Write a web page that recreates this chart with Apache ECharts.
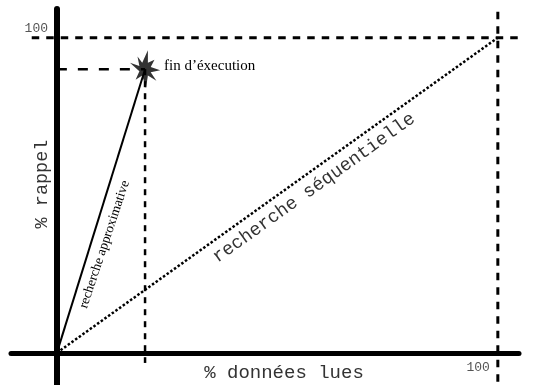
<!DOCTYPE html>
<html>
<head>
<meta charset="utf-8">
<script src="https://cdn.jsdelivr.net/npm/echarts@6/dist/echarts.min.js"></script>
<style>
  html, body { margin: 0; padding: 0; background: #fff; }
  #chart { width: 533px; height: 385px; }
</style>
</head>
<body>
<div id="chart"></div>
<script>
// % données lues (x) / % rappel (y)
const seqLues = [0, 100]
const seqRappel = [0, 100]
const approxLues = [0, 20]
const approxRappel = [0, 90]
// reference guides at 100 %
const guideH = [-5.7, 110]   // x extent of the dashed line at rappel = 100
const guideV = [108.2, -9.2] // y extent of the dashed line at lues = 100
const finDrop = -3.2         // dashed drop from the end point stops here
const xTicks = [100]
const yTicks = [100]

const finX = approxLues[approxLues.length - 1]
const finY = approxRappel[approxRappel.length - 1]

const zip = (xs, ys) => xs.map((x, i) => [x, ys[i]])

const mono = 'Liberation Mono'
const serif = 'Liberation Serif'
const star = 'path://M3,-18 L3,-6 L10,-9 L6,-2 L16,1 L6,3 L12,11 L3,6 L1,18 L-3,6 L-10,10 L-6,2 L-16,-6 L-6,-3 L-8,-12 L-3,-6 Z'

function dashed(data, width, dash) {
  return {
    type: 'line', data, symbol: 'none', clip: false, silent: true,
    lineStyle: { color: '#000', width, type: dash, cap: 'butt' },
  }
}

const chart = echarts.init(document.getElementById('chart'))
chart.setOption({
  animation: false,
  grid: { left: 11, right: 14, top: 9, bottom: 0, containLabel: false, outerBoundsMode: 'none' },
  xAxis: {
    type: 'value', min: -10.4, max: 104.8,
    splitLine: { show: false },
    axisTick: { show: false },
    axisLine: { lineStyle: { color: '#000', width: 5 } },
    // labels sit on the grid edge, so pull them back up next to the axis line
    axisLabel: {
      customValues: xTicks, margin: -24, align: 'right', verticalAlign: 'top', padding: [0, 8, 0, 0],
      fontFamily: mono, fontSize: 13, color: '#555',
    },
  },
  yAxis: {
    type: 'value', min: -10.2, max: 109.1,
    splitLine: { show: false },
    axisTick: { show: false },
    axisLine: { lineStyle: { color: '#000', width: 6 } },
    axisLabel: {
      customValues: yTicks, margin: -37, align: 'right', verticalAlign: 'bottom', padding: [0, 0, 3, 0],
      fontFamily: mono, fontSize: 13, color: '#555',
    },
  },
  series: [
    dashed(guideH.map(x => [x, 100]), 3, [7.5, 7]),
    dashed(guideV.map(y => [100, y]), 3, [7.5, 7]),
    dashed([[0, finY], [finX, finY]], 2.5, [10, 11]),
    dashed([[finX, finY], [finX, finDrop]], 2.5, [6, 6]),
    {
      type: 'line', data: zip(seqLues, seqRappel), symbol: 'none', silent: true,
      lineStyle: { color: '#000', width: 2.5, type: [2.5, 2], cap: 'butt' },
    },
    {
      type: 'line', data: zip(approxLues, approxRappel), symbol: 'none', silent: true,
      lineStyle: { color: '#000', width: 2 },
    },
    {
      type: 'scatter', data: [[finX, finY]], symbol: star, symbolSize: [34, 38],
      symbolKeepAspect: true, itemStyle: { color: '#000' }, silent: true, z: 5,
    },
  ],
  graphic: [
    {
      type: 'text', x: 284, y: 373,
      style: { text: '% données lues', fontFamily: mono, fontSize: 19, fill: '#333', align: 'center', verticalAlign: 'middle' },
    },
    {
      type: 'text', x: 42, y: 184, rotation: Math.PI / 2,
      style: { text: '% rappel', fontFamily: mono, fontSize: 18.5, fill: '#333', align: 'center', verticalAlign: 'middle' },
    },
    {
      type: 'text', x: 314, y: 188, rotation: 35.6 * Math.PI / 180,
      style: { text: 'recherche séquentielle', fontFamily: mono, fontSize: 18.5, fill: '#333', align: 'center', verticalAlign: 'middle' },
    },
    {
      type: 'text', x: 104.5, y: 244.5, rotation: 71.5 * Math.PI / 180,
      style: { text: 'recherche approximative', fontFamily: serif, fontSize: 13.5, fill: '#000', align: 'center', verticalAlign: 'middle' },
    },
    {
      type: 'text', x: 164, y: 66,
      style: { text: 'fin d’éxecution', fontFamily: serif, fontSize: 15, fill: '#000', align: 'left', verticalAlign: 'middle' },
    },
  ],
})
</script>
</body>
</html>
